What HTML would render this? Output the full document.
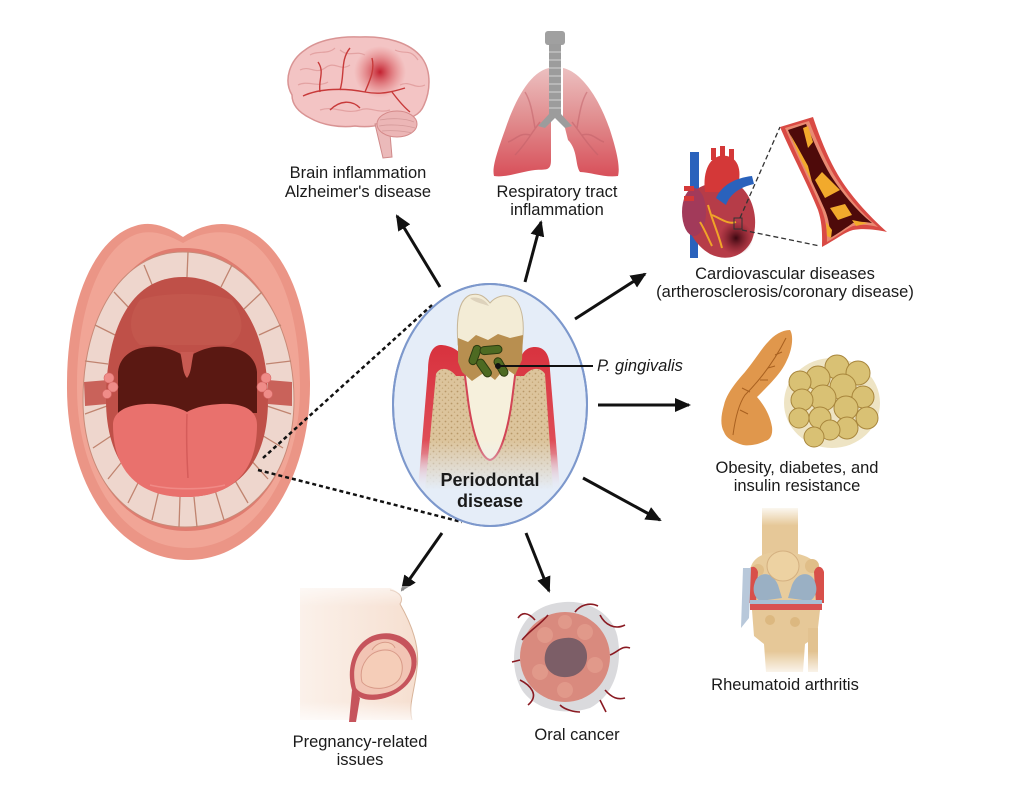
<!DOCTYPE html>
<html><head><meta charset="utf-8"><style>
html,body{margin:0;padding:0;background:#fff;}
svg{display:block;}
text{font-family:"Liberation Sans",Arial,sans-serif;fill:#1a1a1a;}
</style></head><body>
<svg width="1010" height="790" viewBox="0 0 1010 790" xmlns="http://www.w3.org/2000/svg">
<defs>
<marker id="ah" markerWidth="16" markerHeight="14" viewBox="0 0 16 14" refX="14" refY="7" orient="auto" markerUnits="userSpaceOnUse"><path d="M0,0 L16,7 L0,14 Z" fill="#111"/></marker>
<linearGradient id="lung" x1="0" y1="0" x2="0" y2="1"><stop offset="0" stop-color="#ecc0c0"/><stop offset="0.5" stop-color="#e08a8c"/><stop offset="1" stop-color="#d8505a"/></linearGradient>
<radialGradient id="spot"><stop offset="0" stop-color="#c01828" stop-opacity="0.95"/><stop offset="1" stop-color="#e06060" stop-opacity="0"/></radialGradient>
<radialGradient id="infarct"><stop offset="0" stop-color="#3a0810"/><stop offset="1" stop-color="#7a1828" stop-opacity="0"/></radialGradient>
<linearGradient id="gum" x1="0" y1="0" x2="0" y2="1"><stop offset="0" stop-color="#d8323e"/><stop offset="0.75" stop-color="#e0505a"/><stop offset="1" stop-color="#f0b0b8" stop-opacity="0.3"/></linearGradient>
<linearGradient id="fade" x1="0" y1="0" x2="0" y2="1"><stop offset="0" stop-color="#e5edf8" stop-opacity="0"/><stop offset="1" stop-color="#e5edf8" stop-opacity="1"/></linearGradient>
<linearGradient id="skin" x1="0" y1="0" x2="1" y2="0"><stop offset="0" stop-color="#fbf1ea"/><stop offset="1" stop-color="#f6dfd0"/></linearGradient>
<linearGradient id="skinv" x1="0" y1="0" x2="0" y2="1"><stop offset="0" stop-color="#fff" stop-opacity="0.6"/><stop offset="0.15" stop-color="#fff" stop-opacity="0"/><stop offset="0.85" stop-color="#fff" stop-opacity="0"/><stop offset="1" stop-color="#fff" stop-opacity="0.8"/></linearGradient>
<linearGradient id="bonev" x1="0" y1="0" x2="0" y2="1"><stop offset="0" stop-color="#fff" stop-opacity="1"/><stop offset="0.12" stop-color="#fff" stop-opacity="0"/><stop offset="0.85" stop-color="#fff" stop-opacity="0"/><stop offset="1" stop-color="#fff" stop-opacity="1"/></linearGradient>
<pattern id="dots" width="6" height="6" patternUnits="userSpaceOnUse"><rect width="6" height="6" fill="#dcc49c"/><circle cx="1.5" cy="1.5" r="0.9" fill="#b89868"/><circle cx="4.5" cy="4.2" r="0.7" fill="#c4a676"/></pattern>
<clipPath id="ellc"><ellipse cx="490" cy="405" rx="97" ry="121"/></clipPath>
</defs>

<!-- ================= MOUTH ================= -->
<path d="M183,237 C165,225 150,221 135,226 C95,238 67,300 67,385 C66,480 115,560 188,560 C260,560 310,480 310,385 C310,300 282,238 237,226 C217,221 200,226 183,237 Z" fill="#eb9586"/>
<path d="M183,243 C165,233 150,230 137,234 C102,246 77,305 77,388 C77,472 120,548 188,548 C255,548 300,472 300,388 C300,305 275,246 235,234 C217,230 200,233 183,243 Z" fill="#f1a596"/>
<path d="M183,248 C130,246 85,315 84,398 C83,475 125,531 186,531 C250,531 295,475 294,398 C293,315 245,246 183,248 Z" fill="#e07c70"/>
<path d="M183,252 C120,252 83,320 83,400 C83,475 125,527 185,527 C250,527 294,475 294,400 C294,320 250,252 183,252 Z" fill="#eed6cd" stroke="#c98a78" stroke-width="1"/>
<g stroke="#c08470" stroke-width="1.3">
<line x1="188" y1="252" x2="187" y2="277"/>
<line x1="232" y1="265" x2="221" y2="287"/><line x1="144" y1="265" x2="153" y2="287"/>
<line x1="262" y1="292" x2="244" y2="309"/><line x1="114" y1="292" x2="130" y2="309"/>
<line x1="281" y1="325" x2="259" y2="335"/><line x1="95" y1="325" x2="115" y2="335"/>
<line x1="291" y1="361" x2="266" y2="364"/><line x1="85" y1="361" x2="108" y2="364"/>
<line x1="291" y1="414" x2="267" y2="406"/><line x1="85" y1="414" x2="107" y2="406"/>
<line x1="283" y1="448" x2="260" y2="434"/><line x1="93" y1="448" x2="114" y2="434"/>
<line x1="268" y1="479" x2="249" y2="458"/><line x1="108" y1="479" x2="125" y2="458"/>
<line x1="248" y1="503" x2="233" y2="477"/><line x1="128" y1="503" x2="141" y2="477"/>
<line x1="224" y1="520" x2="215" y2="490"/><line x1="152" y1="520" x2="159" y2="490"/>
<line x1="197" y1="527" x2="194" y2="497"/><line x1="179" y1="527" x2="180" y2="497"/>
</g>
<path d="M84,382 L108,380 L107,404 L85,406 Z" fill="#c9625a"/>
<path d="M292,382 L268,380 L268,404 L292,406 Z" fill="#c9625a"/>
<path d="M183,277 C130,277 106,330 106,400 C106,460 135,497 185,497 C240,497 268,460 268,400 C268,330 238,277 183,277 Z" fill="#bf5048"/>
<path d="M140,300 C160,292 210,292 232,300 C245,320 245,335 230,345 L140,345 C128,335 128,315 140,300 Z" fill="#c55a50" opacity="0.7"/>
<path d="M118,413 L118,372 C120,352 140,345 160,347 C175,349 182,356 187,356 C192,356 199,349 214,347 C235,345 255,352 257,372 L257,413 Z" fill="#5a1812"/>
<path d="M180,352 C183,362 182,372 187,378 C192,372 191,362 194,352 Z" fill="#c85a52"/>
<g fill="#ef8c88" stroke="#d86a68" stroke-width="0.6"><circle cx="109" cy="378" r="5"/><circle cx="113" cy="387" r="5"/><circle cx="107" cy="394" r="4.5"/><circle cx="266" cy="378" r="5"/><circle cx="262" cy="387" r="5"/><circle cx="268" cy="394" r="4.5"/></g>
<path d="M113,425 C113,408 135,403 155,404 C170,405 180,408 187,412 C194,408 204,405 220,404 C240,403 257,408 257,425 C257,472 232,497 185,497 C140,497 113,472 113,425 Z" fill="#e9716d"/>
<path d="M187,414 C186,440 187,460 188,478" stroke="#d55c5a" stroke-width="1.5" fill="none"/>
<path d="M150,485 C170,490 205,490 225,485" stroke="#f08a86" stroke-width="1.5" fill="none"/>

<!-- ================= DOTTED CONNECTORS ================= -->
<g stroke="#111" stroke-width="2.5" stroke-dasharray="4 3" fill="none">
<line x1="263" y1="458" x2="432" y2="305"/>
<line x1="258" y1="470" x2="462" y2="522"/>
</g>

<!-- ================= CENTRAL ELLIPSE ================= -->
<ellipse cx="490" cy="405" rx="97" ry="121" fill="#e5edf8" stroke="#7d98cc" stroke-width="2"/>
<g clip-path="url(#ellc)">
<path d="M440,345 C432,346 428,355 428,370 L418,490 L560,490 L550,370 C550,355 545,347 535,347 C527,347 522,352 520,360 L465,360 C460,350 450,345 440,345 Z" fill="url(#gum)"/>
<path d="M436,374 C440,366 450,368 456,376 L524,376 C530,368 540,366 545,374 L553,490 L425,490 Z" fill="url(#dots)"/>
<path d="M463,360 L517,360 L512,400 C508,430 500,458 490,460 C480,458 472,430 468,400 Z" fill="#f6f0dc" stroke="#d24455" stroke-width="2"/>
<path d="M458,345 C456,320 458,300 470,295 C480,292 486,298 490,303 C495,297 505,293 513,298 C523,305 525,325 522,345 Z" fill="#f3ecd6" stroke="#c8b89a" stroke-width="1"/>
<path d="M470,298 C478,296 486,300 489,306 C480,303 474,302 470,298 Z" fill="#ddd2bc"/>
<path d="M458,338 L468,342 L476,335 L488,340 L498,334 L510,338 L523,335 L522,360 L515,375 L505,368 L495,380 L485,372 L472,381 L462,372 L458,362 Z" fill="#b88f50"/>
<g fill="#4d6a22" stroke="#2c3c10" stroke-width="1">
<rect x="-4" y="-10" width="8" height="20" rx="4" transform="translate(475,355) rotate(20)"/>
<rect x="-11" y="-4" width="22" height="8" rx="4" transform="translate(491,350) rotate(-5)"/>
<rect x="-4" y="-10" width="8" height="20" rx="4" transform="translate(484,368) rotate(-35)"/>
<rect x="-4" y="-10" width="8" height="20" rx="4" transform="translate(501,367) rotate(-30)"/>
</g>
<rect x="400" y="440" width="180" height="50" fill="url(#fade)"/>
</g>
<ellipse cx="490" cy="405" rx="97" ry="121" fill="none" stroke="#7d98cc" stroke-width="2"/>
<circle cx="498" cy="366" r="3" fill="#111"/>
<line x1="498" y1="366" x2="593" y2="366" stroke="#111" stroke-width="2"/>
<text x="597" y="371" font-size="16.5" font-style="italic">P. gingivalis</text>
<text x="490" y="486" font-size="18" font-weight="bold" text-anchor="middle">Periodontal</text>
<text x="490" y="507" font-size="18" font-weight="bold" text-anchor="middle">disease</text>

<!-- ================= ARROWS ================= -->
<g stroke="#111" stroke-width="3" marker-end="url(#ah)">
<line x1="440" y1="287" x2="397" y2="216"/>
<line x1="525" y1="282" x2="541" y2="222"/>
<line x1="575" y1="319" x2="645" y2="274"/>
<line x1="598" y1="405" x2="689" y2="405"/>
<line x1="583" y1="478" x2="660" y2="520"/>
<line x1="442" y1="533" x2="402" y2="590"/>
<line x1="526" y1="533" x2="549" y2="591"/>
</g>

<!-- ================= BRAIN ================= -->
<path d="M292,95 C283,80 290,60 305,50 C318,40 340,36 360,37 C385,36 410,42 422,58 C432,72 430,92 424,105 C420,115 410,120 398,118 C385,125 370,128 355,126 C340,128 322,125 310,118 C298,112 292,104 292,95 Z" fill="#f3c4c4" stroke="#d99494" stroke-width="1.5"/>
<circle cx="380" cy="72" r="26" fill="url(#spot)"/>
<g stroke="#e3a2a2" stroke-width="1.2" fill="none">
<path d="M300,70 C310,65 315,75 325,68 C335,60 340,72 350,65"/>
<path d="M298,85 C308,80 318,88 328,82"/>
<path d="M310,55 C318,50 328,55 335,48"/>
<path d="M395,50 C405,55 410,48 418,60"/>
<path d="M400,85 C410,80 415,90 425,85"/>
<path d="M320,110 C335,105 345,115 360,110 C370,106 378,114 390,110"/>
<path d="M340,50 C350,58 355,50 365,55"/>
</g>
<g stroke="#c83a3a" stroke-width="1.4" fill="none">
<path d="M303,96 C320,88 345,88 365,92 C380,95 392,92 405,88"/>
<path d="M340,90 C345,75 340,60 350,48"/>
<path d="M320,92 C318,80 325,72 318,62"/>
<path d="M365,92 C370,80 375,70 372,58"/>
<path d="M392,92 C398,100 405,108 410,112"/>
<path d="M330,110 C340,100 352,100 360,108"/>
</g>
<path d="M375,124 L389,122 L392,157 L383,158 Z" fill="#ebbaba" stroke="#d08a8a" stroke-width="1"/>
<ellipse cx="397" cy="124" rx="20" ry="13" fill="#ecb6b6" stroke="#d48a8a" stroke-width="1"/>
<g stroke="#d49a9a" stroke-width="0.8" fill="none"><path d="M380,120 C390,118 405,118 414,122"/><path d="M379,126 C390,124 405,125 415,128"/><path d="M382,131 C392,130 404,131 412,133"/></g>

<!-- ================= LUNGS ================= -->
<path d="M549,68 C530,72 515,100 505,130 C496,155 492,168 494,176 C505,178 520,172 535,170 C545,169 551,172 551,160 L551,90 Z" fill="url(#lung)"/>
<path d="M563,68 C582,72 600,100 610,130 C618,155 620,168 618,176 C605,178 590,172 580,172 C575,165 578,150 568,140 L563,120 Z" fill="url(#lung)"/>
<g stroke="#c06068" stroke-width="1.5" fill="none" opacity="0.5">
<path d="M540,122 C530,135 525,145 515,155"/><path d="M530,135 C520,132 515,140 508,142"/><path d="M535,128 C532,110 530,100 525,92"/>
<path d="M572,122 C582,135 588,145 598,155"/><path d="M582,135 C592,132 597,140 604,142"/><path d="M577,128 C580,110 582,100 587,92"/>
</g>
<rect x="545" y="31" width="20" height="14" rx="3" fill="#a0a0a0"/>
<rect x="549" y="44" width="12" height="74" fill="#9c9c9c"/>
<g stroke="#c8c8c8" stroke-width="1.3"><line x1="549" y1="52" x2="561" y2="52"/><line x1="549" y1="60" x2="561" y2="60"/><line x1="549" y1="68" x2="561" y2="68"/><line x1="549" y1="76" x2="561" y2="76"/><line x1="549" y1="84" x2="561" y2="84"/><line x1="549" y1="92" x2="561" y2="92"/><line x1="549" y1="100" x2="561" y2="100"/><line x1="549" y1="108" x2="561" y2="108"/></g>
<path d="M549,114 L538,126 L545,128 L555,118 L565,128 L572,126 L561,114 Z" fill="#9c9c9c"/>

<!-- ================= HEART ================= -->
<rect x="690" y="152" width="9" height="48" fill="#2a62bc"/>
<rect x="690" y="232" width="8" height="26" fill="#2a62bc"/>
<path d="M688,198 C682,220 690,242 710,254 C726,262 744,257 752,240 C759,222 754,198 740,186 C725,178 698,182 688,198 Z" fill="#b63c48"/>
<ellipse cx="694" cy="212" rx="12" ry="24" fill="#a23a5a"/>
<path d="M705,192 C702,168 712,153 727,156 C741,159 742,176 736,192 Z" fill="#d43838"/>
<rect x="711" y="148" width="5" height="12" fill="#d43838"/><rect x="720" y="146" width="5" height="12" fill="#d43838"/><rect x="729" y="149" width="5" height="12" fill="#d43838"/>
<rect x="684" y="186" width="10" height="5" fill="#d43838"/><rect x="684" y="196" width="10" height="5" fill="#d43838"/>
<path d="M716,198 C722,185 735,178 752,176 L754,184 C740,187 730,194 726,205 Z" fill="#2a62bc"/>
<circle cx="736" cy="238" r="17" fill="url(#infarct)"/>
<g stroke="#f0a428" stroke-width="2" fill="none"><path d="M708,205 C712,220 718,232 722,248"/><path d="M712,215 C720,218 728,225 736,222"/><path d="M700,222 C705,230 708,238 712,246"/></g>
<rect x="734" y="218" width="8" height="11" fill="none" stroke="#333" stroke-width="1"/>
<g stroke="#333" stroke-width="1.3" stroke-dasharray="5 3"><line x1="740" y1="218" x2="780" y2="127"/><line x1="742" y1="230" x2="820" y2="246"/></g>
<!-- artery -->
<path d="M780,127 C792,155 808,185 818,210 C823,225 822,238 822,247 C835,240 845,232 853,230 C865,228 877,230 887,232 C868,215 850,195 838,175 C828,158 820,138 813,117 Z" fill="#d94a44"/>
<path d="M785,128 C797,156 812,186 822,210 C827,224 827,235 827,242 C838,236 846,229 853,226 C863,224 870,225 878,227 C860,212 845,193 834,175 C824,158 816,139 809,121 Z" fill="#e98a72"/>
<path d="M788,130 C800,157 815,187 825,210 C830,222 830,233 830,238 C839,233 847,227 853,223 C861,221 866,222 872,223 C856,210 842,193 831,176 C821,159 813,140 806,124 Z" fill="#4e0a0a"/>
<g fill="#f2aa2c"><path d="M790,134 L800,158 L812,182 L808,166 L797,146 Z"/><path d="M803,128 L808,126 L813,142 L808,148 Z"/><path d="M815,180 L825,198 L840,190 L830,180 L822,172 Z"/><path d="M830,208 L838,220 L852,215 L845,204 Z"/><path d="M826,222 L832,230 L831,238 L827,236 Z"/><path d="M852,220 L862,222 L868,223 L856,226 Z"/></g>

<!-- ================= PANCREAS & FAT ================= -->
<path d="M790,330 C794,336 792,350 787,360 C782,372 772,382 757,397 C764,405 770,415 772,427 C773,435 770,440 765,441 C758,445 748,446 743,445 C733,442 726,438 724,432 C720,425 721,415 724,405 C726,395 735,383 745,372 C755,360 762,348 768,342 C774,335 782,330 790,330 Z" fill="#e0974c"/>
<g stroke="#a86020" stroke-width="1" fill="none"><path d="M786,338 C775,360 762,378 745,395 C738,405 735,420 733,435"/><path d="M775,355 L782,352"/><path d="M768,368 L775,366"/><path d="M760,380 L768,380"/><path d="M750,392 L742,388"/><path d="M740,410 L748,414"/></g>
<ellipse cx="832" cy="403" rx="48" ry="45" fill="#eee4c4"/>
<g fill="#d9c174" stroke="#a8863c" stroke-width="1">
<circle cx="837" cy="367" r="12"/><circle cx="818" cy="378" r="12"/><circle cx="800" cy="382" r="11"/><circle cx="858" cy="373" r="12"/><circle cx="843" cy="387" r="13"/><circle cx="823" cy="398" r="13"/><circle cx="802" cy="400" r="11"/><circle cx="863" cy="397" r="11"/><circle cx="846" cy="408" r="12"/><circle cx="820" cy="418" r="11"/><circle cx="799" cy="418" r="10"/><circle cx="867" cy="418" r="11"/><circle cx="847" cy="428" r="11"/><circle cx="830" cy="430" r="10"/><circle cx="814" cy="437" r="10"/>
</g>

<!-- ================= KNEE ================= -->
<g>
<rect x="762" y="508" width="36" height="55" fill="#e6c898"/>
<path d="M750,578 C748,560 760,552 780,552 C804,552 822,560 822,580 L820,603 L752,603 Z" fill="#e8cc9c"/>
<g fill="#e0be88"><circle cx="758" cy="570" r="6"/><circle cx="812" cy="566" r="7"/><circle cx="805" cy="580" r="5"/></g>
<path d="M748,572 C750,565 756,565 758,572 L756,603 L748,603 Z" fill="#d8504a"/>
<path d="M824,572 C822,565 816,565 814,572 L816,603 L824,603 Z" fill="#d8504a"/>
<path d="M755,582 C758,572 772,570 778,585 L782,598 L760,601 C754,597 752,590 755,582 Z" fill="#9ab0c4"/>
<path d="M815,582 C812,572 798,570 792,585 L788,598 L810,601 C816,597 818,590 815,582 Z" fill="#9ab0c4"/>
<ellipse cx="783" cy="566" rx="16" ry="15" fill="#edd2a2" stroke="#d4b080" stroke-width="1"/>
<rect x="750" y="600" width="72" height="4" fill="#a8c0d6"/>
<rect x="750" y="604" width="72" height="6" fill="#d85252"/>
<path d="M752,610 L820,610 L817,636 L805,644 L803,672 L766,672 L764,644 L754,636 Z" fill="#e6c898"/>
<g fill="#dcb880"><circle cx="770" cy="620" r="5"/><circle cx="795" cy="622" r="5"/></g>
<rect x="808" y="628" width="10" height="44" fill="#e2c290"/>
<path d="M743,568 L751,568 L749,618 L741,628 Z" fill="#b8c8da"/>
<rect x="738" y="505" width="95" height="172" fill="url(#bonev)"/>
</g>

<!-- ================= PREGNANCY ================= -->
<path d="M300,588 L390,588 C400,592 404,598 400,604 C412,625 420,648 417,668 C415,690 408,705 412,720 L300,720 Z" fill="url(#skin)"/>
<path d="M390,590 C400,592 404,598 400,604 C412,625 420,648 417,668 C415,690 408,705 412,720" fill="none" stroke="#d8b49a" stroke-width="1"/>
<rect x="298" y="586" width="122" height="136" fill="url(#skinv)"/>
<path d="M352,690 C346,670 352,645 372,636 C392,628 412,638 416,655 C420,675 405,692 385,698 C370,702 358,700 352,690 Z" fill="#c6545c"/>
<path d="M356,688 C351,670 356,649 374,641 C391,635 407,644 411,658 C414,673 403,689 385,693 C372,696 361,695 356,688 Z" fill="#f2c4b4"/>
<path d="M362,682 C358,665 370,650 385,650 C400,650 406,665 400,678 C393,690 370,692 362,682 Z" fill="#f5cdb8" stroke="#d89a88" stroke-width="1"/>
<path d="M372,650 C378,640 392,640 395,648" fill="#f5cdb8" stroke="#d89a88" stroke-width="1"/>
<path d="M352,690 L349,722 L356,722 L360,698 Z" fill="#c6545c"/>

<!-- ================= ORAL CANCER ================= -->
<path d="M565,602 C590,600 615,615 618,640 C622,665 615,695 590,708 C565,716 535,710 522,690 C510,670 512,640 525,622 C535,608 550,603 565,602 Z" fill="#dadadd"/>
<circle cx="565" cy="657" r="45" fill="#d98a7e"/>
<g fill="#e5a090" opacity="0.7"><circle cx="545" cy="635" r="8"/><circle cx="585" cy="632" r="8"/><circle cx="595" cy="665" r="8"/><circle cx="540" cy="672" r="8"/><circle cx="565" cy="690" r="8"/><circle cx="565" cy="622" r="7"/></g>
<path d="M565,638 C578,636 588,645 587,658 C586,670 576,678 563,677 C550,676 543,666 545,655 C547,644 554,639 565,638 Z" fill="#7c5e67"/>
<g stroke="#8a1a22" stroke-width="1.6" fill="none">
<path d="M522,640 C530,630 540,625 548,615"/><path d="M520,680 C530,685 540,695 528,705"/><path d="M600,615 C605,625 615,630 625,625"/><path d="M605,690 C612,698 618,700 625,698"/><path d="M575,612 C580,605 590,602 598,606"/><path d="M520,660 L512,662"/><path d="M610,655 C618,652 622,645 630,648"/><path d="M560,705 C565,710 575,712 580,712"/><path d="M535,620 C528,612 522,612 518,618"/><path d="M600,700 L606,712"/>
</g>

<!-- ================= LABELS ================= -->
<g font-size="16.5" text-anchor="middle">
<text x="358" y="178">Brain inflammation</text>
<text x="358" y="197">Alzheimer's disease</text>
<text x="557" y="197">Respiratory tract</text>
<text x="557" y="215">inflammation</text>
<text x="785" y="279">Cardiovascular diseases</text>
<text x="785" y="297">(artherosclerosis/coronary disease)</text>
<text x="797" y="473">Obesity, diabetes, and</text>
<text x="797" y="491">insulin resistance</text>
<text x="785" y="690">Rheumatoid arthritis</text>
<text x="360" y="747">Pregnancy-related</text>
<text x="360" y="765">issues</text>
<text x="577" y="740">Oral cancer</text>
</g>
</svg>
</body></html>
